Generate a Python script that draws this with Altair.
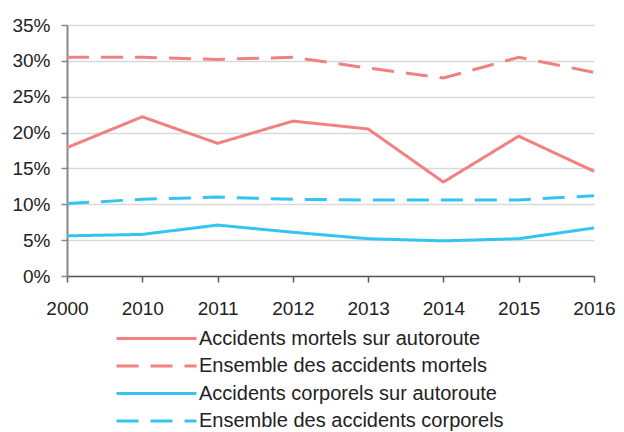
import altair as alt
import pandas as pd

years = ["2000", "2010", "2011", "2012", "2013", "2014", "2015", "2016"]
mortels_autoroute = [17.9, 22.2, 18.5, 21.6, 20.5, 13.1, 19.5, 14.6]
mortels_ensemble = [30.5, 30.5, 30.2, 30.5, 29.0, 27.6, 30.5, 28.4]
corporels_autoroute = [5.6, 5.8, 7.1, 6.1, 5.2, 4.9, 5.2, 6.7]
corporels_ensemble = [10.1, 10.7, 11.0, 10.7, 10.6, 10.6, 10.6, 11.2]

series_names = [
    "Accidents mortels sur autoroute",
    "Ensemble des accidents mortels",
    "Accidents corporels sur autoroute",
    "Ensemble des accidents corporels",
]
series_values = [mortels_autoroute, mortels_ensemble, corporels_autoroute, corporels_ensemble]
series_colors = ["#F28080", "#F28080", "#33C4F1", "#33C4F1"]
series_dashes = [[1, 0], [22, 12], [1, 0], [22, 12]]

rows = []
for name, vals in zip(series_names, series_values):
    for yr, v in zip(years, vals):
        rows.append({"annee": yr, "serie": name, "valeur": v / 100})
df = pd.DataFrame(rows)

FONT = "Liberation Sans"


def make_legend():
    return alt.Legend(
        title=None,
        orient="none",
        legendX=48,
        legendY=302,
        direction="vertical",
        symbolType="M-1,0H7",
        symbolSize=400,
        symbolStrokeWidth=3,
        labelFontSize=20,
        labelFont=FONT,
        labelColor="#222222",
        labelLimit=500,
        labelOffset=61,
        rowPadding=5.5,
        padding=0,
    )


chart = (
    alt.Chart(df)
    .mark_line(strokeWidth=3)
    .encode(
        x=alt.X(
            "annee:O",
            scale=alt.Scale(type="point", padding=0),
            axis=alt.Axis(
                title=None,
                labelAngle=0,
                domainColor="#595959",
                domainWidth=1.5,
                tickColor="#595959",
                tickWidth=1.5,
                tickSize=6,
                labelPadding=17,
                grid=False,
            ),
        ),
        y=alt.Y(
            "valeur:Q",
            scale=alt.Scale(domain=[0, 0.35], nice=False),
            axis=alt.Axis(
                title=None,
                format=".0%",
                values=[0, 0.05, 0.10, 0.15, 0.20, 0.25, 0.30, 0.35],
                domainColor="#878787",
                domainWidth=2,
                tickColor="#878787",
                tickWidth=1.5,
                tickSize=6,
                labelPadding=11,
                gridColor="#d9d9d9",
                gridWidth=1.5,
            ),
        ),
        color=alt.Color(
            "serie:N",
            sort=series_names,
            scale=alt.Scale(domain=series_names, range=series_colors),
            legend=make_legend(),
        ),
        strokeDash=alt.StrokeDash(
            "serie:N",
            sort=series_names,
            scale=alt.Scale(domain=series_names, range=series_dashes),
            legend=make_legend(),
        ),
    )
    .properties(width=527, height=251, padding={"left": 3, "top": 8, "right": 0, "bottom": 0})
    .configure_axis(labelFont=FONT, labelFontSize=19, labelColor="#222222")
    .configure_view(strokeWidth=0)
)

chart.save("out.html", embed_options={"renderer": "svg", "actions": False})
